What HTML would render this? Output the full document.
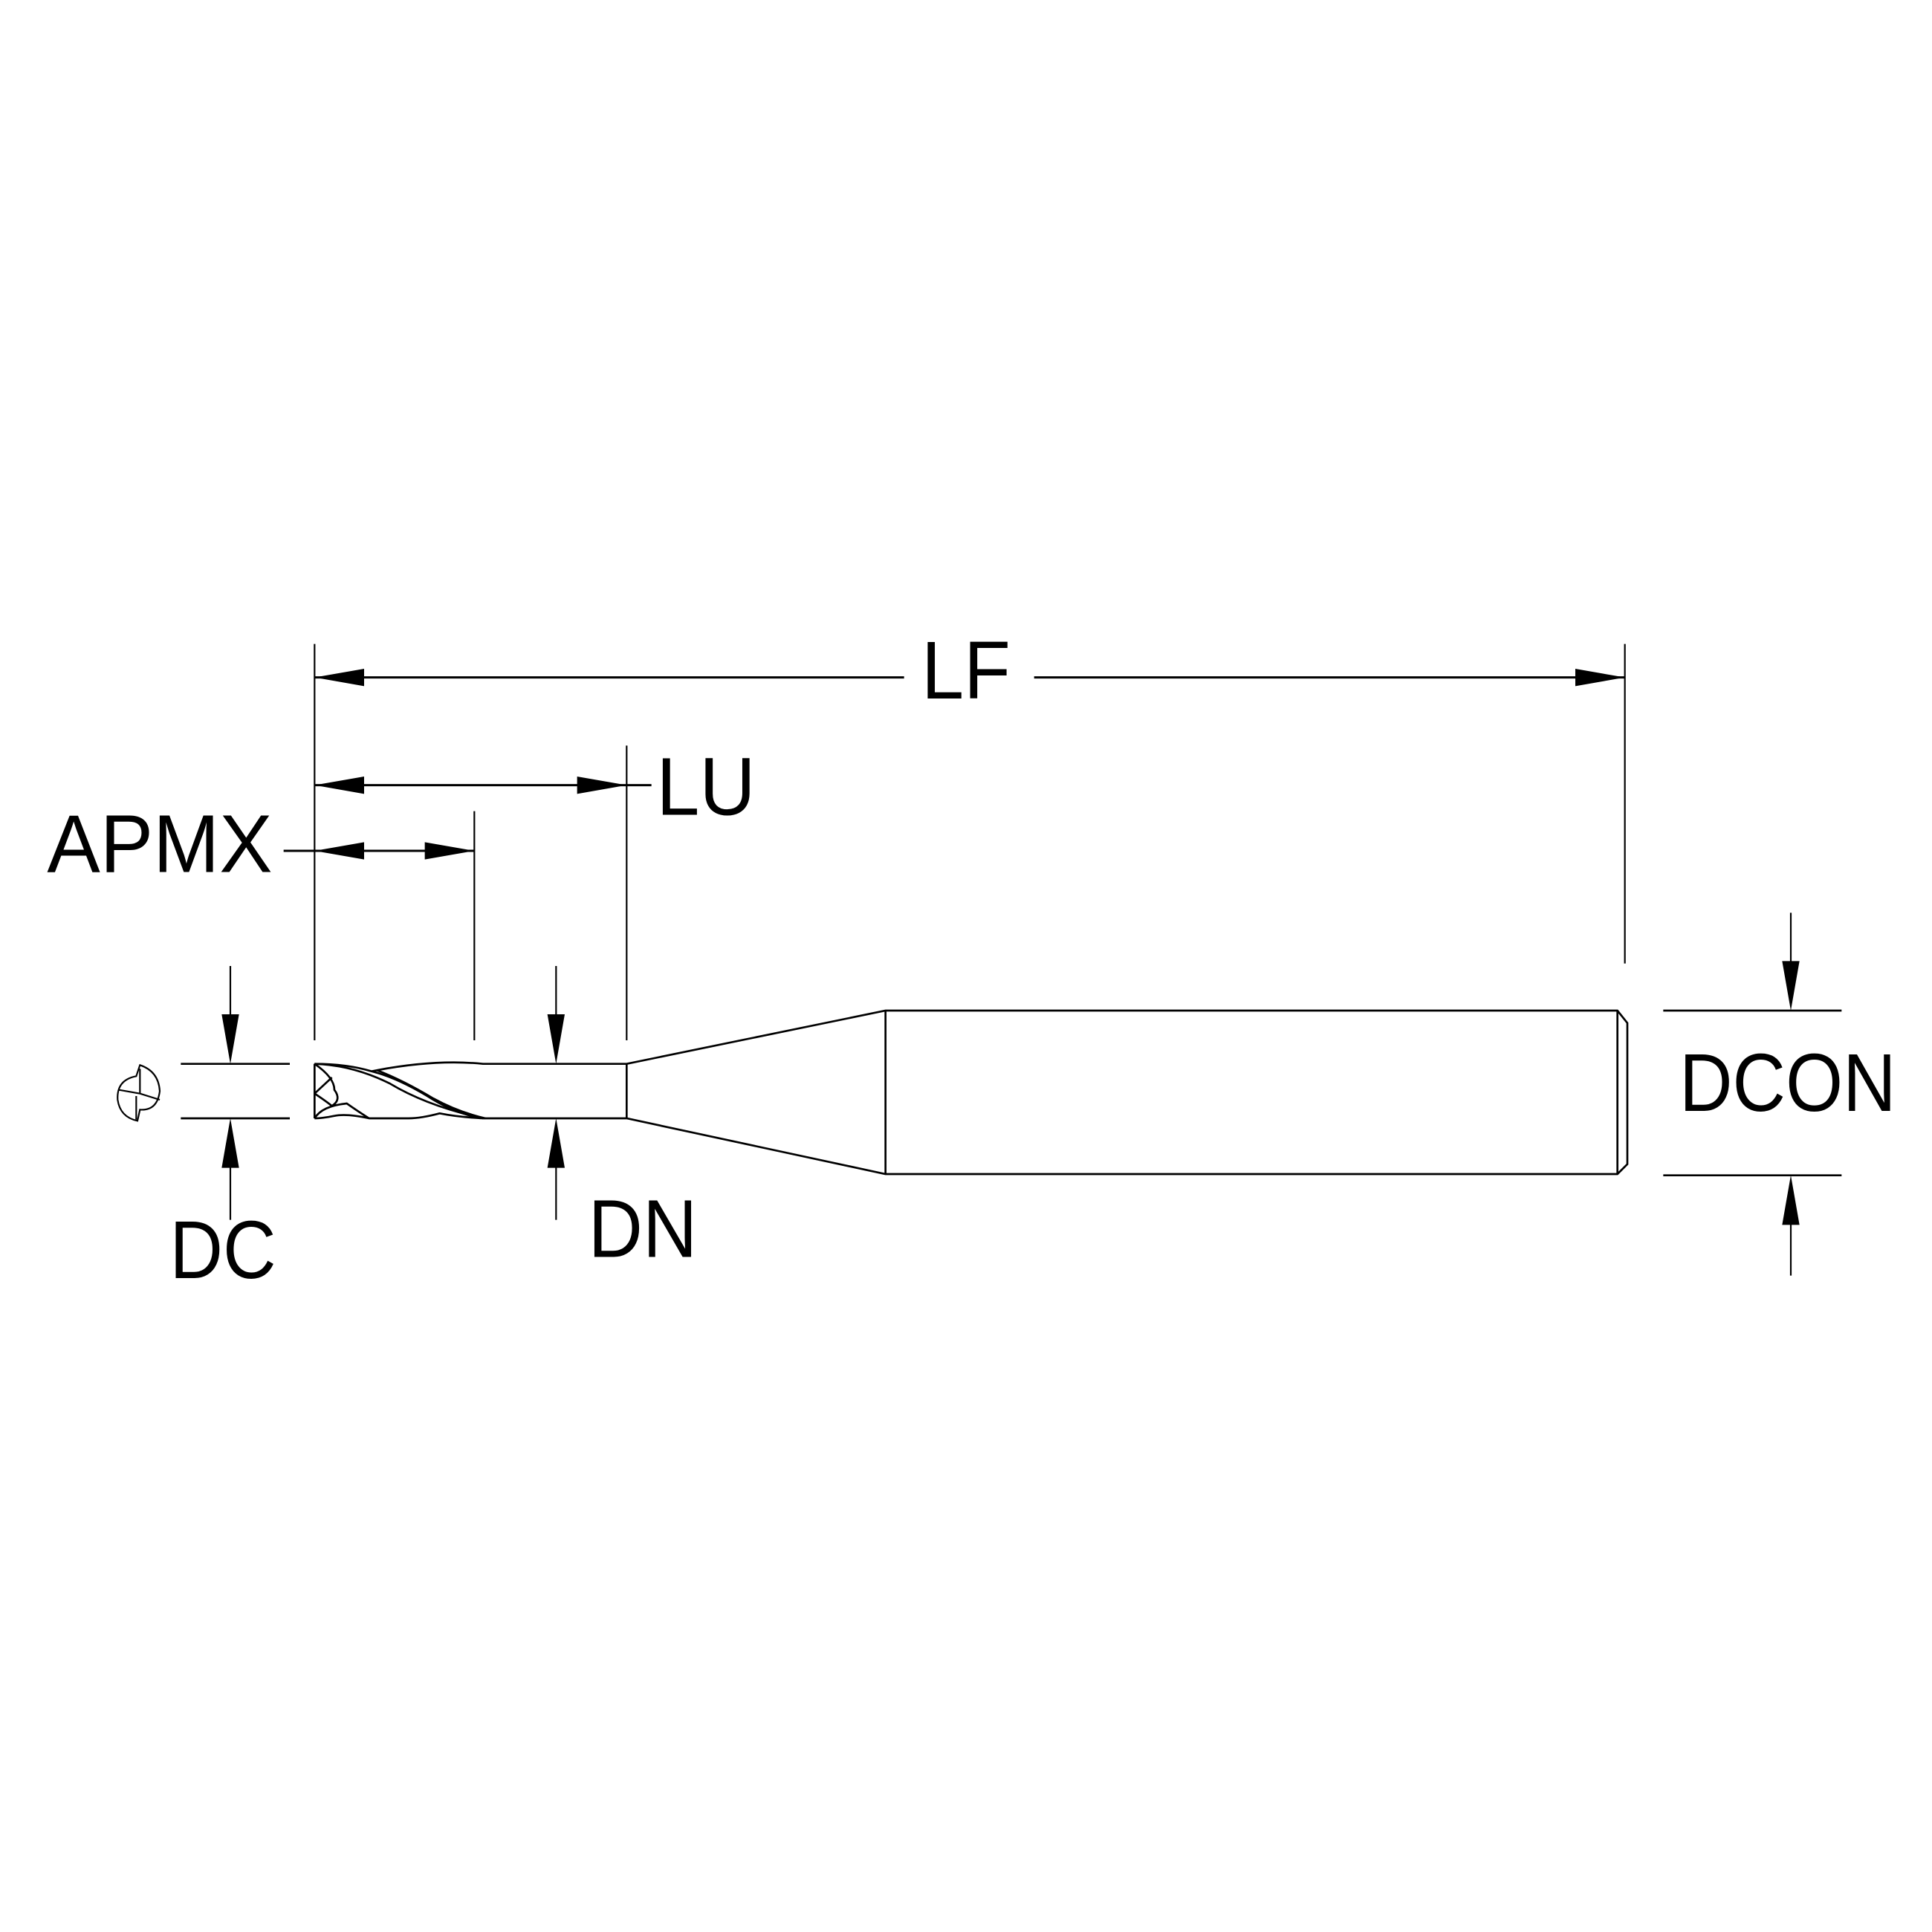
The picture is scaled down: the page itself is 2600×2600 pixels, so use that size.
<!DOCTYPE html>
<html><head><style>html,body{margin:0;padding:0;background:#fff}svg{display:block}</style></head>
<body>
<svg width="2600" height="2600" viewBox="0 0 1560 1560" xmlns="http://www.w3.org/2000/svg">
<g fill="none" stroke="#000" stroke-width="1.3">
<!-- extension lines -->
<line x1="254" y1="520" x2="254" y2="840"/>
<line x1="1312" y1="520" x2="1312" y2="778"/>
<line x1="506" y1="602" x2="506" y2="840"/>
<line x1="383" y1="655" x2="383" y2="840"/>
<!-- dim lines -->
<line x1="254" y1="547" x2="730" y2="547" stroke-width="1.8"/>
<line x1="835" y1="547" x2="1312" y2="547" stroke-width="1.8"/>
<line x1="254" y1="634" x2="526" y2="634" stroke-width="1.8"/>
<line x1="229" y1="687" x2="383" y2="687" stroke-width="1.8"/>
<!-- DC -->
<line x1="146" y1="859" x2="234" y2="859" stroke-width="1.6"/>
<line x1="146" y1="903" x2="234" y2="903" stroke-width="1.6"/>
<line x1="186" y1="780" x2="186" y2="830"/>
<line x1="186" y1="935" x2="186" y2="985"/>
<!-- DN -->
<line x1="449" y1="780" x2="449" y2="830"/>
<line x1="449" y1="935" x2="449" y2="985"/>
<!-- DCON -->
<line x1="1343" y1="816" x2="1487" y2="816" stroke-width="1.6"/>
<line x1="1343" y1="949" x2="1487" y2="949" stroke-width="1.6"/>
<line x1="1446" y1="737" x2="1446" y2="790"/>
<line x1="1446" y1="975" x2="1446" y2="1030"/>
<!-- tool -->
<g stroke-width="1.6">
<line x1="254" y1="859" x2="254" y2="903"/>
<path d="M254 859 Q280 859 300 865 Q350 855 390 859 L506 859 L715 816 L1306 816 L1314 826 L1314 940 L1306 948 L715 948 L506 903 L390 903 Q370 902 355 899 Q340 903 330 903 L298 903 Q280 899 270 901 Q260 903 254 903"/>
<line x1="506" y1="859" x2="506" y2="903"/>
<line x1="715" y1="816" x2="715" y2="948"/>
<line x1="1306" y1="816" x2="1306" y2="948"/>
<path d="M254 859 Q270 870 270 880 Q276 888 268 893 Q263 889 254 883"/>
<path d="M254 883 L268 870"/>
<path d="M254 903 Q260 893 280 891 Q290 898 298 903"/>
<path d="M254 859 Q285 860 315 875 Q345 893 390 903"/>
<path d="M300 865 Q320 870 345 885 Q365 898 388 903"/>
<path d="M304 864 Q325 872 350 887 Q370 898 392 903"/>
</g>
<!-- end view -->
<g stroke-width="1.3">
<path d="M113 860 Q128 865 129 881 Q127 897 113 896 L111 905 Q97 902 95 888 Q94 872 110 869 L112 863 Z"/>
<line x1="113" y1="863" x2="113" y2="883"/>
<line x1="113" y1="883" x2="129" y2="888"/>
<line x1="113" y1="883" x2="96" y2="880"/>
<line x1="110" y1="885" x2="110" y2="904"/>
</g>
</g>
<g fill="#000">
<polygon points="254,547 294,540 294,554"/>
<polygon points="1312,547 1272,540 1272,554"/>
<polygon points="254,634 294,627 294,641"/>
<polygon points="506,634 466,627 466,641"/>
<polygon points="254,687 294,680 294,694"/>
<polygon points="383,687 343,680 343,694"/>
<polygon points="186,859 179,819 193,819"/>
<polygon points="186,903 179,943 193,943"/>
<polygon points="449,859 442,819 456,819"/>
<polygon points="449,903 442,943 456,943"/>
<polygon points="1446,816 1439,776 1453,776"/>
<polygon points="1446,949 1439,989 1453,989"/>
</g>
<g font-family="'Liberation Sans', sans-serif" font-size="66" fill="#000">
<text x="744" y="564" textLength="72" lengthAdjust="spacingAndGlyphs">LF</text>
<text x="530" y="658" textLength="80" lengthAdjust="spacingAndGlyphs">LU</text>
<text x="38" y="704" textLength="182" lengthAdjust="spacingAndGlyphs">APMX</text>
<text x="137" y="1032" textLength="86" lengthAdjust="spacingAndGlyphs">DC</text>
<text x="475" y="1015" textLength="88" lengthAdjust="spacingAndGlyphs">DN</text>
<text x="1356" y="897" textLength="175" lengthAdjust="spacingAndGlyphs">DCON</text>
</g>
</svg>
</body></html>
